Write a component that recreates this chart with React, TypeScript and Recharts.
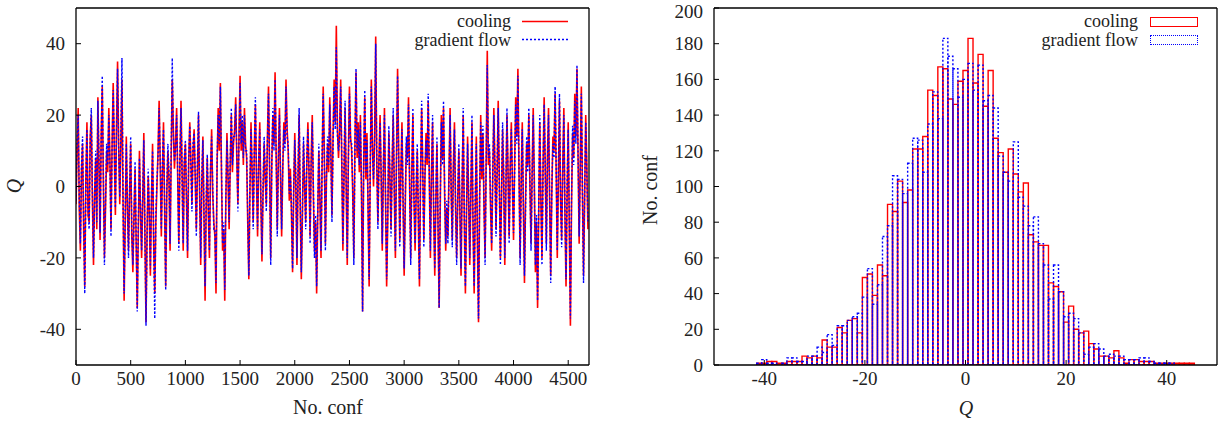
import React from 'react';
import { LineChart, Line, BarChart, Bar, XAxis, YAxis } from 'recharts';

const FONT = '"Liberation Serif", "DejaVu Serif", serif';
const RED = '#ff0000';
const BLUE = '#0000ff';

// time series, one value every 10 configurations
const confStep = 10;
const coolingQ = [
  -5, 10, 22, -6, -18, 4, 12, -12, -28, 2, 18, -8, -10, 14, 20, -4, -22, -2, 8, -12,
  25, 6, -15, 14, 28, 2, -20, -6, 10, 4, 22, 8, -12, 12, 29, 10, -8, 16, 35, 12,
  -5, 12, 30, -4, -32, -10, 14, -6, -18, -2, 12, -14, -24, -8, 5, -16, -34, -12, 10, -8,
  -20, -4, 15, -14, -38, -12, 3, -8, -25, -4, 12, -16, -30, -10, 0, 10, 24, 6, -14, 4,
  18, -6, -28, -2, 10, 2, -18, 8, 30, 16, 5, 12, 22, 2, -16, 6, 24, 4, -18, 6,
  12, -4, -20, 6, 18, 8, -5, 10, 16, 2, -12, 4, 20, -2, -22, 0, 14, -8, -32, -6,
  8, -8, -20, 4, 16, -2, -10, -14, -30, 6, 22, 10, 29, 4, -18, -12, -32, -4, 15, 2,
  -12, 6, 20, 4, 12, 16, 25, 8, -5, 14, 31, 10, 18, 6, 22, 12, 8, -10, -26, -2,
  18, 4, -10, 10, 23, 2, -14, 6, 18, -4, -21, -2, 12, 2, -5, 14, 28, 4, -20, 6,
  20, 12, 32, 8, -12, 8, 22, 2, -14, 4, 18, 12, 30, 16, 10, -4, 5, -8, -24, -2,
  15, 0, -22, 2, 20, -6, -26, -8, 12, 0, -10, 6, 18, 4, -14, 8, 20, -2, -18, -10,
  -30, -8, 10, -4, -20, 6, 28, 10, -16, 2, 12, 4, 25, 10, -8, 14, 30, 18, 45, 16,
  8, 16, 30, 6, -18, 2, 22, 0, -22, 8, 28, 14, 10, -2, -20, 12, 32, 8, 18, 4,
  20, -2, -35, 6, 25, 2, 15, -6, -28, 4, 30, 12, 0, 14, 42, 6, -10, 8, 20, 2,
  -18, 4, 22, -4, -28, -10, 15, 2, -12, 6, 20, -2, -20, 8, 33, 10, -15, 4, 18, -4,
  -25, -6, 12, 8, 25, 0, -20, 4, 20, -4, -18, -2, 10, -10, -28, 2, 22, 6, -15, 2,
  15, 6, 24, 2, -20, 4, 18, -8, -25, -4, 12, -12, -34, -6, 20, 8, 22, -2, -18, -6,
  -14, 4, 22, -2, -15, 6, 18, -6, -20, -4, 10, -8, -25, 0, 20, -10, -30, -8, 14, -4,
  -22, -2, 18, -12, -30, -6, 14, -16, -38, -4, 20, 2, 15, -6, -20, 8, 38, 6, 10, -6,
  -18, 2, 22, 6, -12, 4, 24, 2, -20, -4, 16, 2, -22, -2, 20, 4, -14, 6, 18, 0,
  -15, 6, 25, 14, 33, 4, -20, 2, 18, -6, -27, -4, 12, 6, 20, 0, -16, 4, 22, 2,
  -24, -10, -34, -8, 18, -4, -20, 6, 25, 4, -16, 8, 22, -4, -25, -2, 14, 10, 26, 4,
  -20, 2, 24, -4, -15, 6, 22, -8, -28, -2, 18, -12, -39, -6, 15, 8, 26, 14, 33, 8,
  -16, 6, 28, -2, -25, -4, 20, 6, -12,
];
const gradFlowQ = [
  -4, 12, 20, -4, -16, 6, 14, -10, -30, 0, 16, -6, -12, 12, 22, -2, -20, -4, 10, -10,
  24, 8, -13, 12, 31, 4, -22, -4, 12, 6, 20, 6, -14, 10, 27, 12, -6, 14, 33, 10,
  -3, 14, 36, -2, -30, -8, 12, -4, -20, 0, 14, -12, -22, -10, 7, -14, -35, -10, 8, -6,
  -18, -2, 13, -12, -39, -14, 5, -6, -23, -2, 10, -14, -37, -8, 2, 8, 22, 8, -12, 6,
  16, -4, -29, 0, 12, 4, -16, 10, 36, 14, 7, 10, 20, 4, -18, 8, 22, 2, -16, 8,
  13, -2, -18, 8, 17, 6, -7, 12, 15, 4, -14, 6, 21, 0, -20, 2, 13, -6, -28, -4,
  9, -6, -18, 6, 14, 0, -12, -12, -27, 8, 20, 12, 28, 6, -16, -10, -29, -2, 13, 4,
  -10, 8, 22, 6, 14, 14, 23, 10, -7, 12, 29, 12, 20, 8, 20, 10, 10, -8, -25, 0,
  16, 6, -12, 8, 25, 4, -12, 8, 16, -2, -19, 0, 14, 4, -7, 12, 26, 6, -22, 8,
  22, 10, 30, 10, -14, 6, 20, 4, -12, 6, 16, 10, 28, 14, 12, -2, 3, -6, -23, 0,
  13, 2, -20, 4, 22, -4, -24, -6, 14, 2, -12, 8, 16, 6, -16, 6, 18, 0, -20, -8,
  -28, -6, 12, -2, -18, 8, 26, 8, -18, 4, 14, 6, 23, 8, -10, 12, 28, 16, 39, 14,
  10, 14, 28, 8, -16, 4, 24, 2, -20, 6, 26, 12, 12, 0, -22, 10, 33, 10, 16, 6,
  18, 0, -35, 8, 27, 4, 13, -4, -26, 6, 28, 10, 2, 12, 40, 8, -12, 6, 18, 4,
  -16, 6, 20, -2, -26, -8, 17, 4, -14, 4, 22, 0, -18, 6, 31, 8, -17, 2, 16, -2,
  -23, -4, 14, 6, 23, 2, -22, 2, 22, -2, -16, 0, 12, -8, -26, 4, 24, 4, -17, 4,
  13, 8, 26, 4, -18, 2, 20, -6, -23, -2, 14, -10, -34, -4, 18, 6, 24, 0, -16, -4,
  -16, 2, 20, 0, -17, 4, 16, -4, -22, -2, 12, -6, -23, 2, 22, -8, -28, -6, 12, -2,
  -20, 0, 20, -10, -28, -4, 12, -14, -37, -2, 18, 4, 17, -4, -22, 6, 34, 8, 12, -4,
  -16, 4, 20, 4, -14, 6, 22, 0, -22, -2, 18, 4, -20, 0, 22, 2, -16, 4, 16, 2,
  -13, 4, 23, 12, 31, 6, -22, 0, 16, -4, -25, -6, 14, 4, 22, 2, -18, 2, 20, 0,
  -22, -8, -32, -6, 20, -2, -22, 4, 23, 6, -18, 6, 20, -2, -27, 0, 12, 8, 28, 6,
  -18, 4, 26, -2, -17, 4, 20, -6, -26, 0, 16, -10, -37, -4, 17, 6, 24, 12, 34, 10,
  -14, 4, 26, 0, -27, -2, 18, 4, -10,
];
const confTicks = [0, 500, 1000, 1500, 2000, 2500, 3000, 3500, 4000, 4500];
const qTicks = [-40, -20, 0, 20, 40];

// histogram, bins of width 1 centred on integers, first bin Q = -42
const binStart = -42;
const coolingCounts = [
  0, 1, 1, 2, 2, 1, 1, 2, 2, 2,
  5, 4, 5, 4, 14, 10, 10, 21, 18, 25,
  26, 18, 49, 51, 39, 56, 50, 90, 86, 103,
  91, 98, 121, 121, 128, 154, 151, 167, 166, 149,
  146, 159, 165, 183, 158, 174, 145, 165, 127, 119,
  108, 121, 107, 97, 102, 73, 69, 67, 67, 46,
  44, 41, 24, 33, 20, 18, 19, 12, 9, 5,
  5, 4, 8, 4, 1, 3, 3, 2, 2, 2,
  1, 1, 1, 1, 1, 1, 1, 1, 0,
];
const gradFlowCounts = [
  0, 1, 3, 1, 1, 0, 1, 4, 4, 2,
  2, 5, 5, 10, 7, 17, 11, 22, 22, 25,
  27, 29, 38, 54, 34, 45, 72, 78, 106, 104,
  96, 113, 127, 126, 108, 135, 153, 138, 183, 173,
  166, 150, 160, 169, 154, 168, 148, 151, 144, 117,
  108, 103, 125, 94, 89, 78, 83, 68, 56, 37,
  56, 41, 27, 29, 26, 18, 6, 10, 12, 9,
  5, 6, 5, 5, 3, 3, 3, 4, 4, 2,
  1, 1, 1, 1, 0, 0, 0, 0, 0,
];
const countTicks = [0, 20, 40, 60, 80, 100, 120, 140, 160, 180, 200];

const seriesData = coolingQ.map((c, i) => ({ n: i * confStep, cool: c, grad: gradFlowQ[i] }));

const histData: { q: number; cool: number; grad: number }[] = [];
for (let q = -49; q <= 49; q++) {
  const i = q - binStart;
  histData.push({ q, cool: coolingCounts[i] ?? 0, grad: gradFlowCounts[i] ?? 0 });
}

const tickFont = { fill: '#222', fontSize: 19, fontFamily: FONT };
const axisStroke = { stroke: '#000', strokeWidth: 1.3 };

const Txt = ({ x, y, children, align = 'right', rotate = false, italic = false, size = 20 }: any) => (
  <div
    style={{
      position: 'absolute',
      left: x,
      top: y,
      transform:
        (align === 'right' ? 'translate(-100%, -50%)' : 'translate(-50%, -50%)') +
        (rotate ? ' rotate(-90deg)' : ''),
      fontSize: size,
      fontStyle: italic ? 'italic' : 'normal',
      color: '#222',
      whiteSpace: 'nowrap',
      lineHeight: 1,
    }}
  >
    {children}
  </div>
);

export default function App() {
  return (
    <div style={{ position: 'absolute', left: 0, top: 0, width: 1225, height: 422, background: '#fff', fontFamily: FONT }}>
      <div style={{ position: 'absolute', left: 0, top: 0 }}>
        <LineChart width={600} height={422} data={seriesData} margin={{ top: 0, right: 3, bottom: 27, left: 36 }}>
          <XAxis
            xAxisId="b"
            dataKey="n"
            type="number"
            domain={[0, 4690]}
            allowDataOverflow
            ticks={confTicks}
            tickSize={-5}
            tickMargin={12}
            height={30}
            tick={tickFont}
            axisLine={axisStroke}
            tickLine={{ stroke: '#000' }}
          />
          <XAxis
            xAxisId="t"
            orientation="top"
            dataKey="n"
            type="number"
            domain={[0, 4690]}
            allowDataOverflow
            ticks={confTicks}
            tickSize={-5}
            height={8}
            tick={false}
            axisLine={axisStroke}
            tickLine={{ stroke: '#000' }}
          />
          <YAxis
            yAxisId="l"
            type="number"
            domain={[-50, 50]}
            allowDataOverflow
            ticks={qTicks}
            tickSize={-5}
            tickMargin={16}
            width={40}
            tick={tickFont}
            axisLine={axisStroke}
            tickLine={{ stroke: '#000' }}
          />
          <YAxis
            yAxisId="r"
            orientation="right"
            type="number"
            domain={[-50, 50]}
            allowDataOverflow
            ticks={qTicks}
            tickSize={-5}
            width={8}
            tick={false}
            axisLine={axisStroke}
            tickLine={{ stroke: '#000' }}
          />
          <Line xAxisId="b" yAxisId="l" dataKey="cool" stroke={RED} strokeWidth={1.6} dot={false} isAnimationActive={false} />
          <Line xAxisId="b" yAxisId="l" dataKey="grad" stroke={BLUE} strokeWidth={1.4} strokeDasharray="2 2" dot={false} isAnimationActive={false} />
        </LineChart>
      </div>

      <div style={{ position: 'absolute', left: 600, top: 0 }}>
        <BarChart width={625} height={422} data={histData} barCategoryGap={0} barGap={0} margin={{ top: 0, right: 0, bottom: 27, left: 74 }}>
          <XAxis
            xAxisId="a"
            dataKey="q"
            type="category"
            ticks={qTicks}
            padding={{ left: 2.5, right: 2.5 }}
            tickSize={-5}
            tickMargin={12}
            height={30}
            tick={tickFont}
            axisLine={axisStroke}
            tickLine={{ stroke: '#000' }}
          />
          <XAxis xAxisId="h" dataKey="q" type="category" padding={{ left: 2.5, right: 2.5 }} hide />
          <XAxis
            xAxisId="t"
            orientation="top"
            dataKey="q"
            type="category"
            ticks={qTicks}
            padding={{ left: 2.5, right: 2.5 }}
            tickSize={-5}
            height={8}
            tick={false}
            axisLine={axisStroke}
            tickLine={{ stroke: '#000' }}
          />
          <YAxis
            yAxisId="l"
            type="number"
            domain={[0, 200]}
            allowDataOverflow
            ticks={countTicks}
            tickSize={-5}
            tickMargin={16}
            width={40}
            tick={tickFont}
            axisLine={axisStroke}
            tickLine={{ stroke: '#000' }}
          />
          <YAxis
            yAxisId="r"
            orientation="right"
            type="number"
            domain={[0, 200]}
            allowDataOverflow
            ticks={countTicks}
            tickSize={-5}
            width={8}
            tick={false}
            axisLine={axisStroke}
            tickLine={{ stroke: '#000' }}
          />
          <Bar xAxisId="a" yAxisId="l" dataKey="cool" fill="none" stroke={RED} strokeWidth={1.4} isAnimationActive={false} />
          <Bar xAxisId="h" yAxisId="l" dataKey="grad" fill="none" stroke={BLUE} strokeWidth={1.4} strokeDasharray="2 2" isAnimationActive={false} />
        </BarChart>
      </div>

      {/* axis titles */}
      <Txt x={14} y={186} align="center" rotate italic>Q</Txt>
      <Txt x={328} y={407} align="center">No. conf</Txt>
      <Txt x={650} y={190} align="center" rotate>No. conf</Txt>
      <Txt x={966} y={408} align="center" italic>Q</Txt>

      {/* legend, left panel */}
      <Txt x={511} y={21} size={18}>cooling</Txt>
      <Txt x={511} y={40} size={18}>gradient flow</Txt>
      <svg style={{ position: 'absolute', left: 520, top: 14, zIndex: 2 }} width={50} height={32}>
        <line x1={2} y1={7.5} x2={48} y2={7.5} stroke={RED} strokeWidth={1.5} />
        <line x1={2} y1={25.5} x2={48} y2={25.5} stroke={BLUE} strokeWidth={1.3} strokeDasharray="2 2" />
      </svg>

      {/* legend, right panel */}
      <Txt x={1138} y={21} size={18}>cooling</Txt>
      <Txt x={1138} y={40} size={18}>gradient flow</Txt>
      <div style={{ position: 'absolute', left: 1150, top: 17, width: 46, height: 8, border: `1.4px solid ${RED}` }} />
      <div style={{ position: 'absolute', left: 1150, top: 35, width: 46, height: 8, border: `1.4px dotted ${BLUE}` }} />
    </div>
  );
}
